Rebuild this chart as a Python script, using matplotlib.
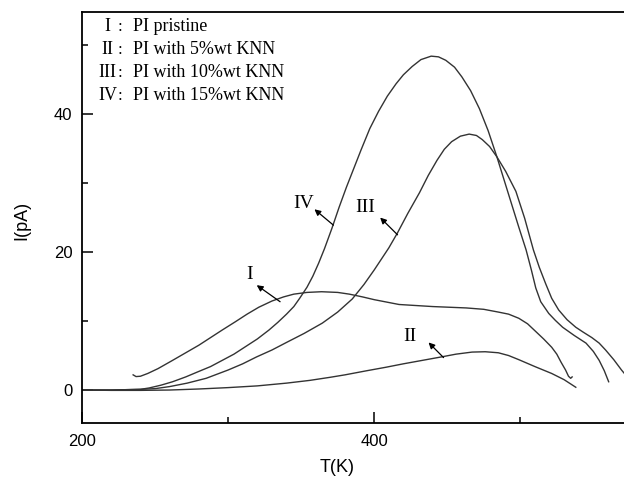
import matplotlib
matplotlib.use("Agg")
from matplotlib import pyplot as plt
from matplotlib.ticker import MultipleLocator

# curve I: PI pristine
t1 = [235, 237, 240, 245, 252, 262, 271, 280, 288, 296, 305, 313, 321, 330, 338,
      345, 354, 364, 375, 383, 392, 400, 417, 440, 463, 475, 485, 492, 499, 505,
      510, 516, 521.5, 525, 528, 531, 533, 534.5, 535.5]
i1 = [2.2, 1.95, 2.0, 2.4, 3.1, 4.3, 5.4, 6.5, 7.6, 8.7, 9.9, 11.0, 12.0, 12.9, 13.5,
      13.9, 14.15, 14.25, 14.15, 13.9, 13.5, 13.1, 12.4, 12.1, 11.9, 11.7, 11.3, 11.0, 10.4, 9.6,
      8.6, 7.4, 6.2, 5.2, 4.0, 2.9, 2.0, 1.7, 1.9]

# curve II: 5%wt KNN
t2 = [200, 220, 240, 260, 280, 300, 320, 340, 356, 370, 380, 395, 408, 420, 433,
      446, 456, 467, 476, 485, 492, 499, 510, 521.5, 530, 538]
i2 = [0.0, -0.05, -0.05, 0.0, 0.15, 0.35, 0.6, 1.0, 1.4, 1.85, 2.2, 2.8, 3.3, 3.8, 4.3,
      4.8, 5.2, 5.5, 5.55, 5.4, 5.0, 4.4, 3.4, 2.4, 1.5, 0.4]

# curve III: 10%wt KNN
t3 = [200, 220, 240, 250, 260, 272, 285, 300, 310, 319.5, 330, 340, 352, 364.5, 375,
      385, 393, 400, 405, 410, 416, 423, 431, 437, 443, 448, 453, 459, 465, 470,
      474, 479, 484, 490, 497, 503, 509, 513, 517.4, 521.5, 526.3, 532, 538, 543,
      549, 554, 558.4, 564, 569.3, 576]
i3 = [0.0, 0.0, 0.1, 0.2, 0.5, 1.0, 1.7, 2.9, 3.8, 4.8, 5.8, 6.9, 8.2, 9.7, 11.3,
      13.2, 15.3, 17.4, 19.0, 20.6, 22.8, 25.6, 28.6, 31.1, 33.3, 34.9, 36.0, 36.8, 37.1, 36.9,
      36.3, 35.3, 33.8, 31.7, 28.8, 24.9, 20.3, 17.8, 15.4, 13.3, 11.6, 10.2, 9.1, 8.4,
      7.6, 6.8, 5.8, 4.4, 2.9, 1.2]

# curve IV: 15%wt KNN
t4 = [200, 220, 240, 246, 254, 262, 271, 280, 288, 296, 304, 312, 320, 328, 334,
      340, 345, 349, 354, 358, 362, 366, 371, 376, 381, 386, 391, 397, 403, 409,
      415, 420, 426, 432, 439, 444, 449, 455, 460, 466, 472, 478, 484, 489, 494,
      499, 504, 507.6, 510.6, 514, 519.5, 524, 529, 537, 545, 550, 554, 557.5, 560.5]
i4 = [0.0, 0.0, 0.1, 0.3, 0.7, 1.2, 1.9, 2.7, 3.4, 4.3, 5.2, 6.3, 7.4, 8.7, 9.8,
      11.0, 12.1, 13.3, 14.9, 16.5, 18.4, 20.5, 23.4, 26.5, 29.4, 32.1, 34.8, 37.9, 40.4, 42.6,
      44.4, 45.7, 46.9, 47.9, 48.4, 48.3, 47.8, 46.8, 45.4, 43.4, 40.8, 37.6, 33.8, 30.4, 27.0,
      23.6, 20.3, 17.4, 14.8, 12.8, 11.1, 10.1, 9.1, 7.9, 6.8, 5.6, 4.3, 2.8, 1.2]

numerals = ["I", "II", "III", "IV"]
legend_texts = ["PI pristine", "PI with 5%wt KNN", "PI with 10%wt KNN", "PI with 15%wt KNN"]

# curve labels: (label pos), (arrow head), (arrow tail)
label_pos = [(314.4, 16.8), (424.7, 7.8), (393.8, 26.5), (352, 27.1)]
arrow_head = [(319.6, 15.2), (437.2, 6.9), (404.1, 25.0), (359.1, 26.2)]
arrow_tail = [(335.6, 12.8), (447.5, 4.7), (416.0, 22.5), (372.1, 23.9)]

plt.rcParams["font.family"] = ["Liberation Sans", "DejaVu Sans"]
serif = ["Liberation Serif", "DejaVu Serif"]
line_color = "#333333"

fig = plt.figure(figsize=(6.24, 4.79), dpi=100)
ax = fig.add_axes([82 / 624, 56 / 479, 1 - 82 / 624, 411 / 479])

for t, i in [(t1, i1), (t2, i2), (t3, i3), (t4, i4)]:
    ax.plot(t, i, color=line_color, lw=1.0)

ax.set_xlim(200, 571)
ax.set_ylim(-4.78, 54.8)
ax.xaxis.set_major_locator(MultipleLocator(200))
ax.xaxis.set_minor_locator(MultipleLocator(100))
ax.yaxis.set_major_locator(MultipleLocator(20))
ax.yaxis.set_minor_locator(MultipleLocator(10))
ax.tick_params(which="both", direction="in", width=1.1, labelsize=12)
ax.tick_params(which="major", length=8)
ax.tick_params(which="minor", length=4)
ax.tick_params(axis="x", pad=8)
ax.tick_params(axis="y", pad=7)
ax.spines["right"].set_visible(False)
for s in ["left", "bottom", "top"]:
    ax.spines[s].set_linewidth(1.3)

ax.set_xlabel("T(K)", fontsize=13, va="center")
ax.set_ylabel("I(pA)", fontsize=13, va="center")
ax.xaxis.set_label_coords(0.47, -0.109)
ax.yaxis.set_label_coords(-0.111, 0.494)

# legend-like text block
base_y = [52.0, 48.7, 45.4, 42.0]
for num, txt, y in zip(numerals, legend_texts, base_y):
    ax.text(217.5, y, num, family=serif, fontsize=13, ha="center", va="baseline")
    ax.text(226.3, y, ":", family=serif, fontsize=12, ha="center", va="baseline")
    ax.text(235, y, txt, family=serif, fontsize=13, ha="left", va="baseline")

for num, p, h, tl in zip(numerals, label_pos, arrow_head, arrow_tail):
    ax.text(p[0], p[1], num, family=serif, fontsize=14, ha="center", va="center")
    ax.annotate("", xy=h, xytext=tl,
                arrowprops=dict(arrowstyle="-|>", color="black", lw=0.9,
                                mutation_scale=9, shrinkA=0, shrinkB=0))

fig.savefig("out.png", dpi=100)
